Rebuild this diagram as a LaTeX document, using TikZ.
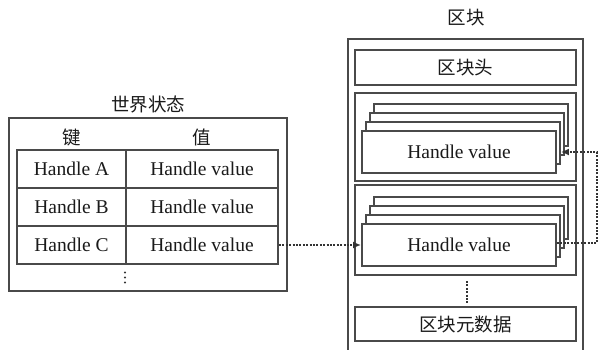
\documentclass[tikz,border=0pt]{standalone}
\usepackage{fontspec}
\setmainfont{Liberation Serif}
\newfontfamily\cjk{Noto Sans CJK SC}
\usetikzlibrary{arrows.meta}
\definecolor{linec}{HTML}{4A4A4A}
\definecolor{dotc}{HTML}{333333}
\definecolor{textc}{HTML}{1A1A1A}
\begin{document}
\begin{tikzpicture}[x=1pt,y=-1pt,
  box/.style={draw=linec, line width=1.9pt, fill=white, rectangle, inner sep=0pt, text=textc},
  cell/.style={box, minimum height=38pt, font=\fontsize{19.5}{22}\selectfont},
  keycell/.style={cell, minimum width=109pt},
  valcell/.style={cell, minimum width=152pt},
  card/.style={box, minimum width=194pt, minimum height=42pt, font=\fontsize{19.5}{22}\selectfont},
  panel/.style={box, minimum width=221pt},
  zh/.style={text=textc, inner sep=0pt, font=\fontsize{18.5}{20}\selectfont\cjk},
  dotline/.style={draw=dotc, line width=2.3pt, dash pattern=on 2pt off 1.4pt},
  tip/.style={-{Latex[length=8pt,width=7pt]}}
]
\useasboundingbox (0,0) rectangle (598,349);

% ---------- world state table ----------
\node[zh] (wtitle) at (148,104) {世界状态};
\node[box, minimum width=278pt, minimum height=173pt] (world) at (148,204.5) {};
\node[zh] (hkey) at (71.5,137) {键};
\node[zh] (hval) at (202,137) {值};

\node[keycell] (ka) at (71.5,169) {Handle A};
\node[valcell] (va) at (202,169) {Handle value};
\node[keycell] (kb) at (71.5,207) {Handle B};
\node[valcell] (vb) at (202,207) {Handle value};
\node[keycell] (kc) at (71.5,245) {Handle C};
\node[valcell] (vc) at (202,245) {Handle value};

\foreach \yy in {272.5,277.5,282.5}
  \fill[dotc] (125,\yy) circle (1.1pt);

% ---------- block ----------
\node[zh] (btitle) at (466,18) {区块};
\draw[draw=linec, line width=1.9pt] (348,360) -- (348,39) -- (583,39) -- (583,360);

\node[panel, minimum height=35pt, zh] (bhead) at (465.5,67.5) {区块头};
\node[panel, minimum height=88pt] (g1) at (465.5,137) {};
\node[panel, minimum height=90pt] (g2) at (465.5,230) {};
\node[panel, minimum height=34pt, zh] (bmeta) at (465.5,324) {区块元数据};

% stacked entries, back to front
\foreach \g/\cy in {1/152, 2/245} {
  \node[card] (c\g d) at (459+12,\cy-27) {};
  \node[card] (c\g c) at (459+8,\cy-18) {};
  \node[card] (c\g b) at (459+4,\cy-9) {};
  \node[card] (c\g a) at (459,\cy) {Handle value};
}

% ellipsis between entry groups and metadata
\coordinate (gapTop) at (467,281);
\coordinate (gapBot) at (467,304);
\draw[dotline] (gapTop) -- (gapBot);

% ---------- links ----------
\draw[dotline, tip] (vc.east) -- (c2a.west);
\coordinate (turnA) at (597,243);
\coordinate (turnB) at (597,152);
\draw[dotline, tip] (c2a.east |- turnA) -- (turnA) -- (turnB) -- (c1b.east |- turnB);
\end{tikzpicture}
\end{document}
